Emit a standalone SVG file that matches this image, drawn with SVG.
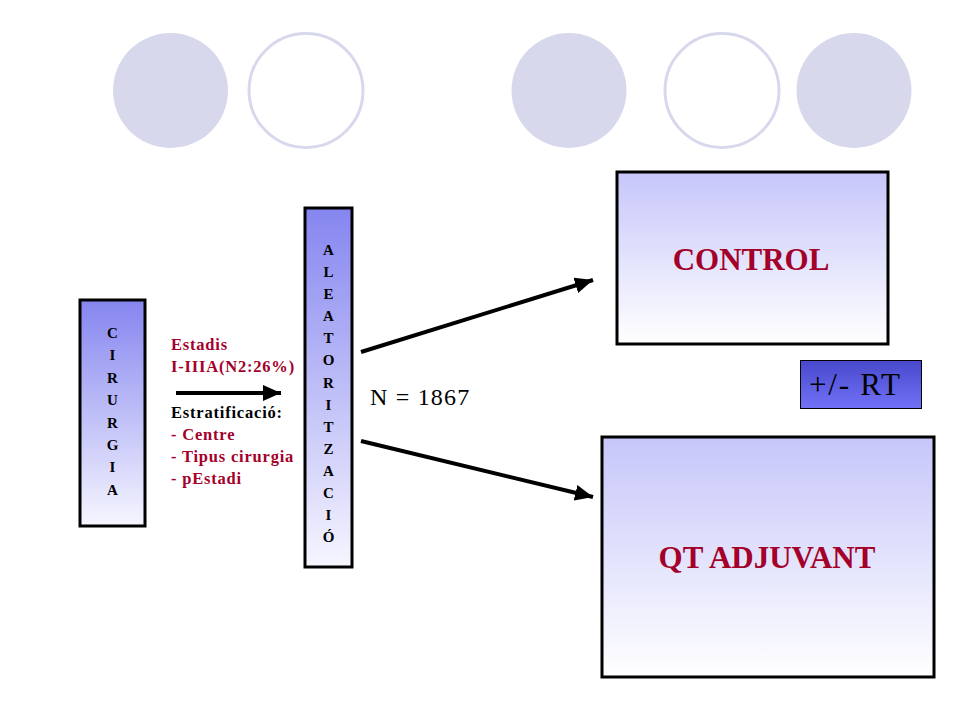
<svg xmlns="http://www.w3.org/2000/svg" width="960" height="720" viewBox="0 0 960 720">
<defs>
<linearGradient id="gNarrow" x1="0" y1="0" x2="0" y2="1">
<stop offset="0" stop-color="#8585f0"/>
<stop offset="1" stop-color="#f6f6ff"/>
</linearGradient>
<linearGradient id="gWide" x1="0" y1="0" x2="0" y2="1">
<stop offset="0" stop-color="#c6c6fa"/>
<stop offset="1" stop-color="#ffffff"/>
</linearGradient>
<linearGradient id="gRT" x1="0" y1="0" x2="0" y2="1">
<stop offset="0" stop-color="#4848cc"/>
<stop offset="1" stop-color="#7272f8"/>
</linearGradient>
<marker id="ah" markerUnits="userSpaceOnUse" markerWidth="20" markerHeight="16" refX="18" refY="8" orient="auto">
<path d="M0,0 L18,8 L0,16 Z" fill="#000"/>
</marker>
</defs>
<style>
.deco{fill:#d8d8ec}
.ring{fill:#fff;stroke:#d8d8ec;stroke-width:3}
.box{stroke:#000;stroke-width:3}
.vl{font-family:"Liberation Serif","Times New Roman",serif;font-weight:bold;font-size:15px;fill:#000;text-anchor:middle}
.lab{font-family:"Liberation Serif","Times New Roman",serif;font-weight:bold;font-size:16.5px;letter-spacing:0.8px}
.red{fill:#a3002a}
.big{font-family:"Liberation Serif","Times New Roman",serif;font-weight:bold;font-size:31px;fill:#a3002a;text-anchor:middle}
.reg{font-family:"Liberation Serif","Times New Roman",serif;fill:#000}
.conn{stroke:#000;stroke-width:4;fill:none;marker-end:url(#ah)}
</style>
<rect width="960" height="720" fill="#fff"/>
<g id="decoration">
<circle class="deco" cx="170.5" cy="90.5" r="57.5"/>
<circle class="ring" cx="306" cy="90.5" r="57"/>
<circle class="deco" cx="569" cy="90.5" r="57.5"/>
<circle class="ring" cx="722" cy="90.5" r="57"/>
<circle class="deco" cx="854" cy="90.5" r="57.5"/>
</g>
<g id="cirurgia">
<rect class="box" x="80" y="300" width="65" height="226" fill="url(#gNarrow)"/>
<text class="vl" x="112.5" y="338">C</text>
<text class="vl" x="112.5" y="360">I</text>
<text class="vl" x="112.5" y="383">R</text>
<text class="vl" x="112.5" y="405">U</text>
<text class="vl" x="112.5" y="428">R</text>
<text class="vl" x="112.5" y="450">G</text>
<text class="vl" x="112.5" y="472">I</text>
<text class="vl" x="112.5" y="495">A</text>
</g>
<g id="criteris">
<text class="lab red" x="171" y="350">Estadis</text>
<text class="lab red" x="171" y="372">I-IIIA(N2:26%)</text>
<text class="lab" x="171" y="418" fill="#000">Estratificació:</text>
<text class="lab red" x="171" y="440">- Centre</text>
<text class="lab red" x="171" y="462">- Tipus cirurgia</text>
<text class="lab red" x="171" y="484">- pEstadi</text>
</g>
<g id="aleatoritzacio">
<rect class="box" x="305" y="208" width="47" height="359" fill="url(#gNarrow)"/>
<text class="vl" x="328.5" y="255">A</text>
<text class="vl" x="328.5" y="277">L</text>
<text class="vl" x="328.5" y="299">E</text>
<text class="vl" x="328.5" y="321">A</text>
<text class="vl" x="328.5" y="343">T</text>
<text class="vl" x="328.5" y="365">O</text>
<text class="vl" x="328.5" y="388">R</text>
<text class="vl" x="328.5" y="410">I</text>
<text class="vl" x="328.5" y="432">T</text>
<text class="vl" x="328.5" y="454">Z</text>
<text class="vl" x="328.5" y="476">A</text>
<text class="vl" x="328.5" y="498">C</text>
<text class="vl" x="328.5" y="520">I</text>
<text class="vl" x="328.5" y="542">Ó</text>
</g>
<g id="n-label">
<text class="reg" x="370" y="405" font-size="24" letter-spacing="1.2">N = 1867</text>
</g>
<g id="control">
<rect class="box" x="617" y="172" width="271" height="172" fill="url(#gWide)"/>
<text class="big" x="751" y="270">CONTROL</text>
</g>
<g id="rt">
<rect x="800.5" y="360.5" width="121" height="48" fill="url(#gRT)" stroke="#000" stroke-width="1"/>
<text class="reg" x="809" y="395" font-size="31" letter-spacing="1.8">+/- RT</text>
</g>
<g id="qt">
<rect class="box" x="602" y="437" width="332" height="240" fill="url(#gWide)"/>
<text class="big" x="767" y="568">QT ADJUVANT</text>
</g>
<g id="connectors">
<line class="conn" x1="176" y1="393" x2="281" y2="393" stroke-width="5"/>
<line class="conn" x1="361" y1="352" x2="593" y2="280"/>
<line class="conn" x1="361" y1="441" x2="593" y2="497"/>
</g>
</svg>
